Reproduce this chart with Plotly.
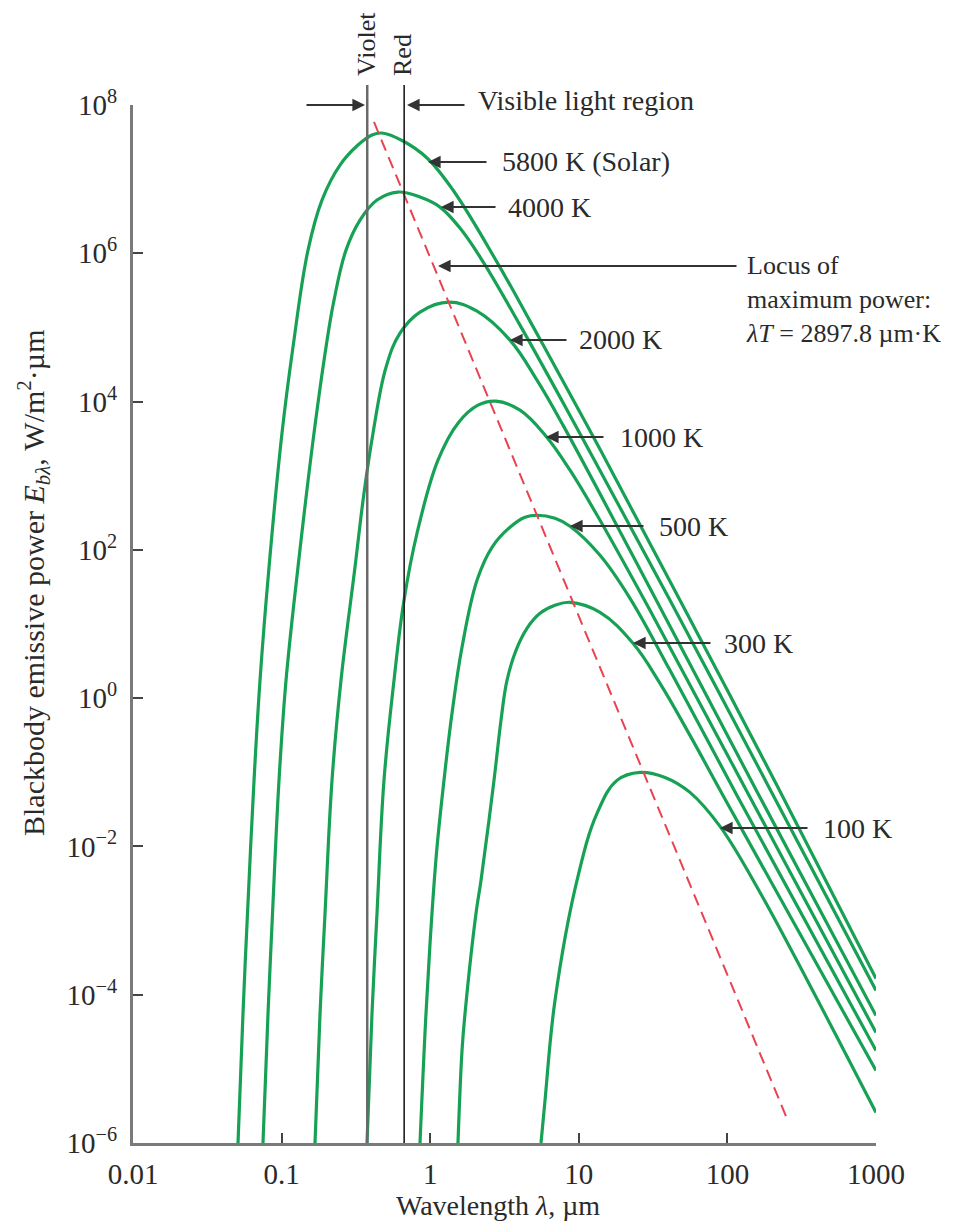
import plotly.graph_objects as go

# ---------------- data ----------------
lam_5800 = [0.05089, 0.05498, 0.05896, 0.06523, 0.07157, 0.08228, 0.1006, 0.1193, 0.1506, 0.1870, 0.2472,
            0.3266, 0.4058, 0.4738, 0.6561, 0.9517, 1.423, 2.815, 4.695, 11.36, 47.97, 215.7, 1000]
E_5800 = [1e-6, 5.57e-5, 1.247e-3, 0.0778, 1.738, 58.2, 3750, 5.42e4, 1.104e6, 5.224e6, 1.549e7,
          2.884e7, 3.936e7, 4.188e7, 3.266e7, 1.928e7, 7.129e6, 7.603e5, 1.216e5, 4808, 20.89, 0.06653, 1.656e-4]

lam_4000 = [0.07494, 0.08102, 0.08687, 0.09605, 0.1071, 0.1289, 0.1652, 0.1990, 0.2253, 0.2713, 0.3370,
            0.4385, 0.6071, 0.8540, 1.164, 1.586, 2.232, 4.021, 9.725, 41.09, 187.6, 1000]
E_4000 = [1e-6, 5.57e-5, 1.247e-3, 0.0778, 1.738, 58.2, 3750, 5.42e4, 2.333e5, 1.104e6, 2.805e6,
          5.224e6, 6.699e6, 5.728e6, 4.198e6, 2.188e6, 8.091e5, 1.074e5, 4375, 20.89, 0.06653, 1.140e-4]

lam_2000 = [0.1678, 0.1814, 0.1960, 0.2184, 0.2510, 0.3118, 0.3584, 0.4122, 0.5043, 0.6262, 0.8540,
            1.338, 2.065, 3.443, 5.233, 7.830, 35.19, 160.6, 1000]
E_2000 = [1e-6, 5.57e-5, 1.247e-3, 0.0778, 1.738, 58.2, 580.8, 3750, 2.911e4, 8.375e4, 1.611e5,
          2.193e5, 1.660e5, 6.745e4, 1.945e4, 4808, 16.79, 0.05188, 5.236e-5]

lam_1000 = [0.3756, 0.4058, 0.4385, 0.4887, 0.5708, 0.6664, 0.8151, 1.128, 1.538, 2.097, 2.772,
            4.021, 6.016, 8.727, 13.89, 30.14, 137.6, 1000]
E_1000 = [1e-6, 5.57e-5, 1.247e-3, 0.0778, 1.738, 20.89, 167.5, 1618, 5117, 8933, 1.012e4,
          7656, 3412, 1186, 250.6, 15.31, 0.05188, 3.090e-5]

lam_500 = [0.8540, 0.9369, 1.028, 1.111, 1.238, 1.402, 1.637, 2.065, 2.605, 3.443, 4.345, 5.233,
           6.915, 8.727, 13.89, 22.11, 41.09, 116.0, 1000]
E_500 = [1e-6, 5.57e-5, 1.247e-3, 9.683e-3, 0.0778, 0.6237, 4.853, 38.9, 108.4, 201.8, 275.4, 293.1,
         266.7, 208.0, 84.53, 22.23, 2.371, 0.04875, 1.766e-5]

lam_300 = [1.538, 1.637, 1.715, 2.033, 2.197, 2.687, 2.995, 3.287, 3.779, 4.480, 5.481, 6.915, 8.727,
           13.89, 23.16, 35.19, 56.01, 93.41, 1000]
E_300 = [1e-6, 1.766e-5, 5.57e-5, 1.247e-3, 3.475e-3, 0.0778, 0.5012, 1.738, 4.416, 8.750, 13.93, 17.86,
         19.63, 14.39, 5.495, 1.585, 0.3148, 0.04875, 9.484e-6]

lam_100 = [5.567, 5.923, 6.915, 9.725, 13.26, 18.07, 25.81, 38.03, 56.01, 89.18, 165.8, 359.6, 1000]
E_100 = [1e-6, 3.733e-6, 8.356e-5, 3.475e-3, 0.02786, 0.0778, 0.09977, 0.08531, 0.05358, 0.01862,
         2.393e-3, 1.330e-4, 2.570e-6]

lam_locus = [0.4185, 251.8]
E_locus = [5.9e7, 2.13e-6]

lam_violet = 0.377
lam_red = 0.668

x_tickvals = [0.01, 0.1, 1, 10, 100, 1000]
x_ticktext = ["0.01", "0.1", "1", "10", "100", "1000"]
y_tickvals = [1e-6, 1e-4, 1e-2, 1e0, 1e2, 1e4, 1e6, 1e8]
y_ticktext = ["10<sup>\u22126</sup>", "10<sup>\u22124</sup>", "10<sup>\u22122</sup>", "10<sup>0</sup>",
              "10<sup>2</sup>", "10<sup>4</sup>", "10<sup>6</sup>", "10<sup>8</sup>"]

curve_labels = ["5800 K (Solar)", "4000 K", "2000 K", "1000 K", "500 K", "300 K", "100 K"]

# ---------------- styling / layout ----------------
W, H = 968, 1221
L, R, T, B = 133, 876, 105, 1143
FONT = "Liberation Serif"
GREEN = "#17a155"
TXT = "#2a2a2a"


def paper(xp, yp):
    return (xp - L) / (R - L), (B - yp) / (B - T)


fig = go.Figure()

for lam, E in [(lam_5800, E_5800), (lam_4000, E_4000), (lam_2000, E_2000), (lam_1000, E_1000),
               (lam_500, E_500), (lam_300, E_300), (lam_100, E_100)]:
    fig.add_trace(go.Scatter(x=lam, y=E, mode="lines", hoverinfo="skip", showlegend=False,
                             line=dict(color=GREEN, width=3.2, shape="spline", smoothing=1.1)))

fig.add_trace(go.Scatter(x=lam_locus, y=E_locus, mode="lines", hoverinfo="skip", showlegend=False,
                         line=dict(color="#e8434f", width=2, dash="12px,7px")))

top_y = paper(0, 85)[1]
shapes = [
    dict(type="line", xref="x", yref="paper", x0=lam_violet, x1=lam_violet, y0=0, y1=top_y,
         line=dict(color="#6a6a6a", width=2.5)),
    dict(type="line", xref="x", yref="paper", x0=lam_red, x1=lam_red, y0=0, y1=top_y,
         line=dict(color="#1e1e1e", width=1.6)),
]

annotations = []


def add_text(text, xp, yp, size, xanchor="left", yanchor="middle", angle=0, align="left"):
    fx, fy = paper(xp, yp)
    annotations.append(dict(text=text, x=fx, y=fy, xref="paper", yref="paper", showarrow=False,
                            xanchor=xanchor, yanchor=yanchor, textangle=angle, align=align,
                            font=dict(family=FONT, size=size, color=TXT)))


def add_arrow(tip_x, tip_y, tail_x):
    fx, fy = paper(tip_x, tip_y)
    annotations.append(dict(text="", x=fx, y=fy, xref="paper", yref="paper", showarrow=True,
                            ax=tail_x - tip_x, ay=0, arrowhead=2, arrowsize=1.4, arrowwidth=1.8,
                            arrowcolor="#333333", standoff=0))


# visible light arrows
add_arrow(365, 105, 305)
add_arrow(407, 105, 466)
add_text("Visible light region", 476, 101, 28)
add_text("Violet", 366, 78, 26, xanchor="center", yanchor="bottom", angle=-90)
add_text("Red", 402, 78, 26, xanchor="center", yanchor="bottom", angle=-90)

# curve labels
label_pos = [(428, 162, 488, 500), (441, 207, 497, 506), (510, 340, 568, 577), (546, 437, 605, 618),
             (570, 526, 645, 657), (633, 643, 712, 722), (720, 828, 809, 821)]
for lab, (tx, ty, tail, lx) in zip(curve_labels, label_pos):
    add_arrow(tx, ty, tail)
    add_text(lab, lx, ty, 28)

# locus
add_arrow(438, 266, 738)
add_text("Locus of<br>maximum power:<br><i>λT</i> = 2897.8 µm·K", 744, 299, 26)

# axis titles
add_text("Wavelength <i>λ</i>, µm", 498, 1205, 28, xanchor="center")
add_text("Blackbody emissive power <i>E</i><sub><i>bλ</i></sub>, W/m<sup>2</sup>·µm", 33, 583, 30,
         xanchor="center", angle=-90)

axis_common = dict(type="log", showgrid=False, zeroline=False, showline=True, linecolor="#7a7a7a",
                   linewidth=3, ticks="inside", ticklen=10, tickwidth=2, tickcolor="#444444",
                   tickfont=dict(family=FONT, size=29, color=TXT), automargin=False, mirror=False)

fig.update_layout(
    width=W, height=H,
    margin=dict(l=L, r=W - R, t=T, b=H - B, pad=0),
    plot_bgcolor="white", paper_bgcolor="white",
    showlegend=False,
    xaxis=dict(range=[-2, 3], tickvals=x_tickvals, ticktext=x_ticktext, ticklabelstandoff=3, **axis_common),
    yaxis=dict(range=[-6, 8], tickvals=y_tickvals, ticktext=y_ticktext, ticklabelstandoff=7, **axis_common),
    shapes=shapes,
    annotations=annotations,
)

fig.write_html("out.html")
